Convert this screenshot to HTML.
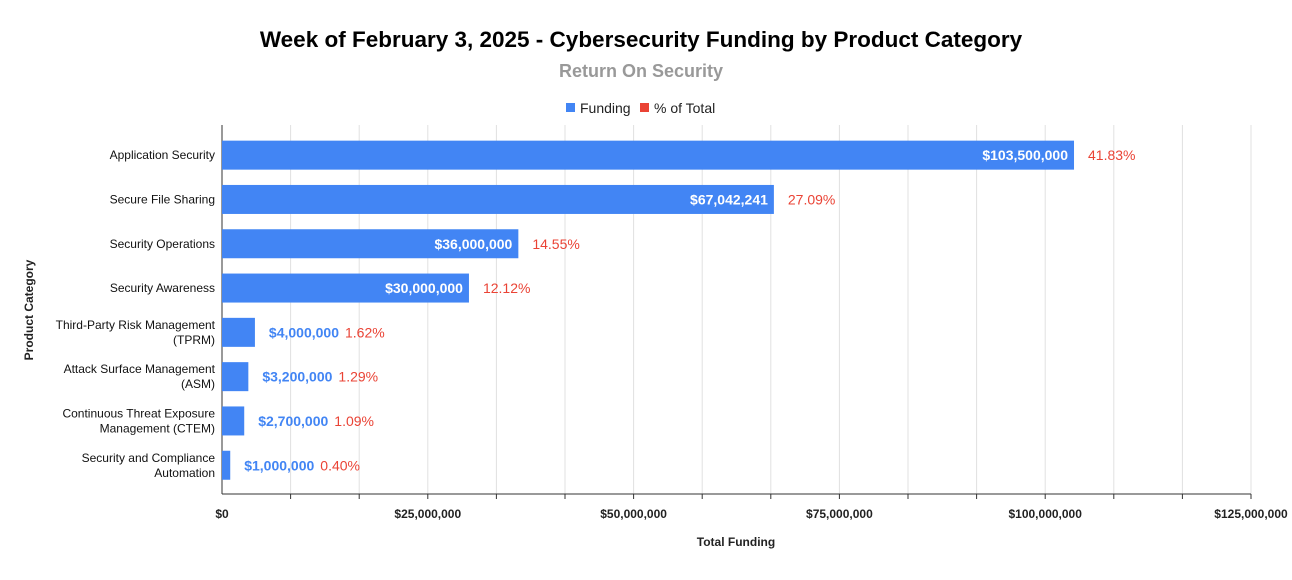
<!DOCTYPE html>
<html><head><meta charset="utf-8"><style>
body{margin:0;background:#fff;font-family:"Liberation Sans",Arial,sans-serif;}
svg text{font-family:"Liberation Sans",Arial,sans-serif;}
</style></head><body>
<svg id="chart" width="1292" height="575" xmlns="http://www.w3.org/2000/svg">
<text x="641" y="47" text-anchor="middle" font-size="22.5" font-weight="bold" fill="#000">Week of February 3, 2025 - Cybersecurity Funding by Product Category</text>
<text x="641" y="77" text-anchor="middle" font-size="18" font-weight="bold" fill="#999">Return On Security</text>
<g>
<rect x="566" y="103" width="9" height="9" fill="#4285f4"/>
<text x="580" y="113" font-size="14" fill="#222">Funding</text>
<rect x="640" y="103" width="9" height="9" fill="#ea4335"/>
<text x="654" y="113" font-size="14" fill="#222">% of Total</text>
</g>
<g id="grid"></g>
<g id="bars"></g>
<text x="736" y="546" text-anchor="middle" font-size="12" font-weight="bold" fill="#222">Total Funding</text>
<text transform="translate(33,310) rotate(-90)" text-anchor="middle" font-size="12" font-weight="bold" fill="#222">Product Category</text>
</svg>
<script>
const categories=[["Application Security"],["Secure File Sharing"],["Security Operations"],["Security Awareness"],["Third-Party Risk Management","(TPRM)"],["Attack Surface Management","(ASM)"],["Continuous Threat Exposure","Management (CTEM)"],["Security and Compliance","Automation"]];
const funding=[103500000,67042241,36000000,30000000,4000000,3200000,2700000,1000000];
const percents=["41.83%","27.09%","14.55%","12.12%","1.62%","1.29%","1.09%","0.40%"];
const tickValues=[0,25000000,50000000,75000000,100000000,125000000];
const tickLabels=["$0","$25,000,000","$50,000,000","$75,000,000","$100,000,000","$125,000,000"];
const NS="http://www.w3.org/2000/svg";
const x0=222,x1=1251,yTop=125,yBot=494,maxV=125000000;
const xs=v=>x0+(v/maxV)*(x1-x0);
const rowTop=133,pitch=44.3,barH=29;
const yc=i=>rowTop+pitch*(i+0.5);
function mk(tag,attrs,parent){const e=document.createElementNS(NS,tag);for(const k in attrs)e.setAttribute(k,attrs[k]);parent.appendChild(e);return e;}
const grid=document.getElementById('grid'),bars=document.getElementById('bars');
for(let k=1;k<=15;k++){
 const x=xs(maxV*k/15);
 const l=mk('line',{x1:x,x2:x,y1:yTop,y2:yBot,stroke:'#e0e0e0','stroke-width':1},grid);
 
 
 const t=mk('line',{x1:x,x2:x,y1:yBot,y2:yBot+5,stroke:'#333','stroke-width':1},grid);
 
 
}
tickValues.forEach((v,i)=>{
 const t=mk('text',{x:xs(v),y:518,'text-anchor':'middle','font-size':12,'font-weight':'bold',fill:'#222'},grid);
 t.textContent=tickLabels[i];
 
 
});
const ax=mk('line',{x1:x0,x2:x0,y1:yTop,y2:yBot,stroke:'#333','stroke-width':1},grid);


const bx=mk('line',{x1:x0,x2:x1,y1:yBot,y2:yBot,stroke:'#333','stroke-width':1},grid);


funding.forEach((v,i)=>{
 const c=yc(i),xe=xs(v);
 const r=mk('rect',{x:x0,y:c-barH/2,width:xe-x0,height:barH,fill:'#4285f4'},bars);
 
 
 const lab='$'+v.toLocaleString('en-US');
 const inside=v>20000000;
 const vt=mk('text',{x:inside?xe-6:xe+14,y:c+5,'text-anchor':inside?'end':'start','font-size':14,'font-weight':'bold',fill:inside?'#fff':'#4285f4'},bars);
 vt.textContent=lab;
 
 
 let px=inside?xe+14:xe+14+vt.getComputedTextLength()+6;
 const pt=mk('text',{x:px,y:c+5,'font-size':14,fill:'#ea4335'},bars);
 pt.textContent=percents[i];
 
 
 const lines=categories[i];
 lines.forEach((ln,j)=>{
  const t=mk('text',{x:215,y:c+4+(j-(lines.length-1)/2)*15,'text-anchor':'end','font-size':12,fill:'#111'},bars);
  t.textContent=ln;
  
  
 });
});
</script>
</body></html>
